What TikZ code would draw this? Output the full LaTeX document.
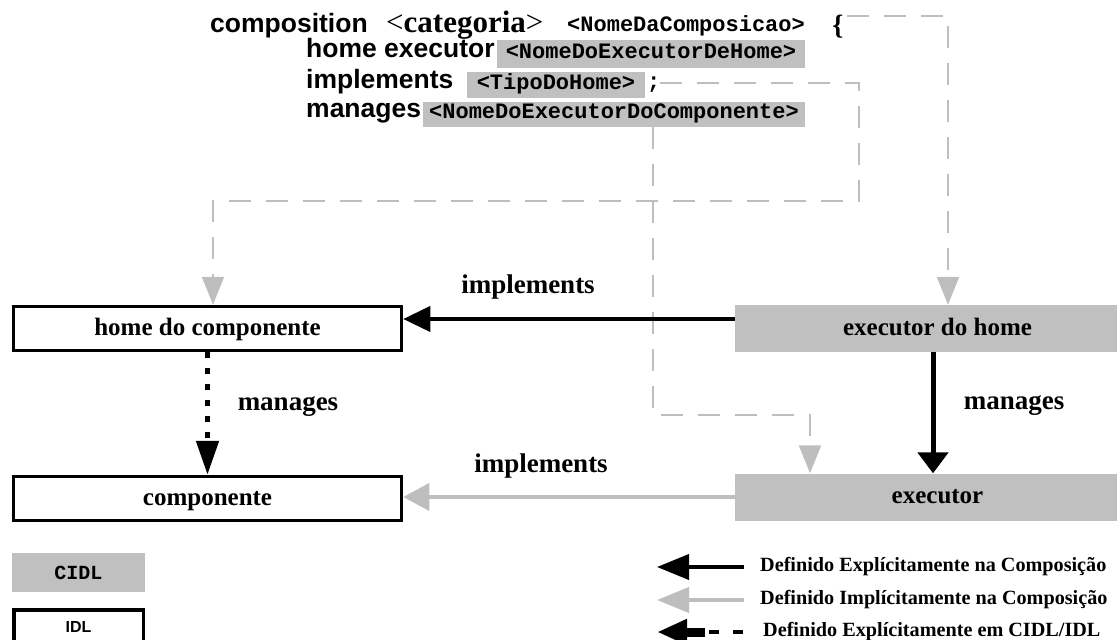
\documentclass[tikz,border=0pt]{standalone}
\usepackage{fontspec}
\setmainfont{Liberation Serif}
\newfontfamily\kwfont{Liberation Sans}
\newfontfamily\codefont{Liberation Mono}
\usetikzlibrary{arrows.meta}
\definecolor{cidlgray}{RGB}{192,192,192}
\definecolor{implgray}{RGB}{190,190,190}
\newcommand\fsz[1]{\fontsize{#1}{#1}\selectfont}

\begin{document}
\begin{tikzpicture}[x=1pt,y=-1pt,
  kw/.style={anchor=base west, inner sep=0pt, font=\kwfont\bfseries\fsz{26.5}},
  code/.style={inner sep=0pt, font=\codefont\bfseries\fsz{22}},
  codebox/.style={code, fill=cidlgray, text height=14pt, text depth=6pt},
  idlbox/.style={draw, line width=3.5pt, fill=white, minimum width=388pt,
    minimum height=44pt, inner sep=0pt, font=\bfseries\fsz{25},
    text height=18pt, text depth=5pt},
  cidlbox/.style={fill=cidlgray, minimum width=405pt, minimum height=47pt,
    inner sep=0pt, font=\bfseries\fsz{25}, text height=18pt, text depth=5pt},
  edgelabel/.style={anchor=base, inner sep=0pt, font=\bfseries\fsz{27}},
  keytext/.style={anchor=base west, inner sep=0pt, font=\bfseries\fsz{20.2}},
  dashedlink/.style={draw=implgray, line width=2.2pt, dash pattern=on 22pt off 15pt,
    -{Triangle[length=28pt,width=22pt]}},
  explicitlink/.style={draw=black, line width=4pt},
  implicitlink/.style={draw=implgray, line width=4pt,
    -{Triangle[length=26pt,width=27pt]}},
  idllink/.style={draw=black, line width=5pt, dash pattern=on 6pt off 10pt,
    -{Triangle[length=34pt,width=22pt]}}
]
\useasboundingbox (0,0) rectangle (1117,640);

% ---- composition declaration
\node[kw] (kwComp) at (210,32) {composition};
\node[anchor=base west, inner sep=0pt, font=\bfseries\fsz{31}] (catNode) at (386,32)
  {{\mdseries<}categoria{\mdseries>}};
\node[code, anchor=base west] (compName) at (567,31) {<NomeDaComposicao>};
\node[inner sep=0pt, font=\bfseries\fsz{28}] (brace) at (838,27) {\{};

\node[kw] (kwHome) at (306,57) {home executor};
\node[codebox, minimum width=308pt, minimum height=28pt] (homeName) at (651,54)
  {<NomeDoExecutorDeHome>};
\node[kw] (kwImpl) at (306,88) {implements};
\node[codebox, minimum width=178pt, minimum height=26pt] (typeName) at (556,85)
  {<TipoDoHome>};
\node[code, anchor=base west] (semi) at (647,88) {;};
\node[kw] (kwMan) at (306,117) {manages};
\node[codebox, minimum width=382pt, minimum height=25pt] (compExec) at (614,114.5)
  {<NomeDoExecutorDoComponente>};

% ---- main boxes
\node[idlbox] (homeComp) at (207.5,328.5) {home do componente};
\node[idlbox] (comp) at (207.5,498.5) {componente};
\node[cidlbox] (execHome) at (937.5,328.5) {executor do home};
\node[cidlbox] (exec) at (937.5,497) {executor};

% ---- implicit (dashed) links from the declaration
\coordinate (aStart) at (847,16);
\coordinate (bStart) at (660,83);
\coordinate (bTurn) at (859,201);
\coordinate (cStart) at (653,127);
\coordinate (cTurn) at (653,415);
\draw[dashedlink] (aStart) -| ([xshift=10.5pt]execHome.north);
\draw[dashedlink] (bStart) -| (bTurn) -| ([xshift=5.5pt]homeComp.north);
\draw[dashedlink] (cStart) -- (cTurn) -| ([xshift=-127.5pt]exec.north);

% ---- relations between the boxes
\draw[explicitlink, -{Triangle[length=27pt,width=25pt]}]
  ([yshift=9.5pt]execHome.west) -- ([yshift=9.5pt]execHome.west -| homeComp.east);
\draw[explicitlink, line width=5pt, -{Triangle[length=21pt,width=30pt]}]
  ([xshift=-4.5pt]execHome.south) -- ([xshift=-4.5pt]exec.north);
\draw[idllink] (homeComp.south) -- (comp.north);
\draw[implicitlink] (exec.west) -- (exec.west -| comp.east);

\node[edgelabel] (lblImplTop) at (528,293) {implements};
\node[edgelabel] (lblImplBot) at (541,472) {implements};
\node[edgelabel] (lblManLeft) at (288,410) {manages};
\node[edgelabel] (lblManRight) at (1014,409) {manages};

% ---- key
\node[fill=cidlgray, minimum width=133pt, minimum height=39pt, inner sep=0pt,
  font=\codefont\bfseries\fsz{20}] (cidlKey) at (78.5,572.5) {CIDL};
\node[draw, line width=3.5pt, minimum width=129.5pt, minimum height=34pt, inner sep=0pt,
  font=\kwfont\bfseries\fsz{16}, text height=11pt, text depth=0pt] (idlKey) at (78.5,627)
  {IDL};

\coordinate (k1tail) at (744,567);
\coordinate (k1tip) at (657,567);
\coordinate (k2tail) at (744,600);
\coordinate (k2tip) at (657,600);
\coordinate (k3tail) at (743,632);
\coordinate (k3mid) at (705,632);
\coordinate (k3tip) at (657,632);
\draw[explicitlink, -{Triangle[length=32pt,width=25pt]}] (k1tail) -- (k1tip);
\draw[implicitlink, -{Triangle[length=32pt,width=25pt]}] (k2tail) -- (k2tip);
\draw[black, line width=4pt, dash pattern=on 10pt off 14pt] (k3tail) -- (k3mid);
\draw[black, line width=9pt, -{Triangle[length=30pt,width=24pt]}] (k3mid) -- (k3tip);

\node[keytext] (keyExplicit) at (760,571) {Definido Explícitamente na Composição};
\node[keytext] (keyImplicit) at (760,604) {Definido Implícitamente na Composição};
\node[keytext] (keyIdl) at (763,636) {Definido Explícitamente em CIDL/IDL};
\end{tikzpicture}
\end{document}
